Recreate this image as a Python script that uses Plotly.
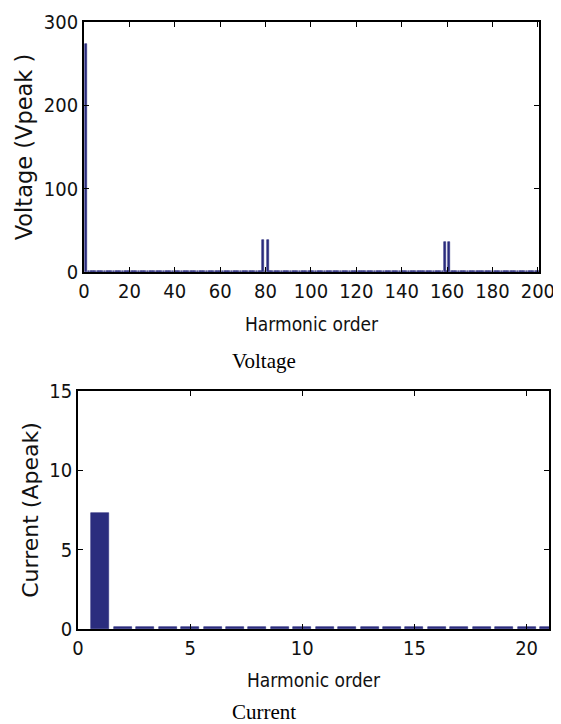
import plotly.graph_objects as go

# ---------------- data ----------------
# Voltage spectrum (harmonic order 1..200), peak volts
voltage_orders = list(range(1, 201))
voltage_main_orders = [1, 79, 81, 159, 161]
voltage_main_values = [274, 38, 38, 36, 36]
voltage_residual = 0.9  # small residual on every other harmonic

# Current spectrum (harmonic order 1..21), peak amps
current_orders = list(range(1, 22))
current_main_orders = [1]
current_main_values = [7.3]
current_residual = 0.12

x_ticks_top = [0, 20, 40, 60, 80, 100, 120, 140, 160, 180, 200]
y_ticks_top = [0, 100, 200, 300]
x_ticks_bot = [0, 5, 10, 15, 20]
y_ticks_bot = [0, 5, 10, 15]

voltage_values = [voltage_main_values[voltage_main_orders.index(h)] if h in voltage_main_orders else voltage_residual
                  for h in voltage_orders]
current_values = [current_main_values[current_main_orders.index(h)] if h in current_main_orders else current_residual
                  for h in current_orders]

BAR = "#2b2d7e"
COND = "DejaVu Sans Condensed, Liberation Sans, Arial, sans-serif"
SANS = "DejaVu Sans, Liberation Sans, Arial, sans-serif"
SERIF = "Liberation Serif, Times New Roman, serif"

fig = go.Figure()
fig.add_trace(go.Bar(x=voltage_orders, y=voltage_values, width=0.8,
                     marker=dict(color=BAR, line=dict(color=BAR, width=0.6)),
                     xaxis="x", yaxis="y", showlegend=False))
fig.add_trace(go.Bar(x=current_orders, y=current_values, width=0.8,
                     marker=dict(color=BAR, line=dict(color=BAR, width=0.6)),
                     xaxis="x2", yaxis="y2", showlegend=False))

# the page body adds an 8px offset, so the figure is 8px smaller than the window
OFF = 8
W, H = 561 - OFF, 724 - OFF

def px_x(p):
    return (p - OFF) / W

def px_y(p):
    return 1 - (p - OFF) / H

axis_common = dict(showline=True, linecolor="black", linewidth=1.6, mirror="ticks",
                   ticks="inside", ticklen=5, tickwidth=1, tickcolor="black",
                   showgrid=False, zeroline=False, automargin=False,
                   tickfont=dict(family=COND, size=20, color="#111"))

fig.update_layout(
    width=W, height=H,
    margin=dict(l=0, r=0, t=0, b=0),
    paper_bgcolor="white", plot_bgcolor="white",
    bargap=0,
    xaxis=dict(domain=[px_x(84), px_x(539)], range=[0, 200.5], tickvals=x_ticks_top,
               anchor="y",
               title=dict(text="Harmonic order", font=dict(family=COND, size=19, color="#111"), standoff=16),
               **axis_common),
    yaxis=dict(domain=[px_y(272), px_y(22)], range=[0, 300], tickvals=y_ticks_top,
               anchor="x",
               title=dict(text="Voltage (Vpeak )", font=dict(family=SANS, size=22.5, color="#111"), standoff=5),
               **axis_common),
    xaxis2=dict(domain=[px_x(78), px_x(549)], range=[0, 21], tickvals=x_ticks_bot,
                anchor="y2",
                title=dict(text="Harmonic order", font=dict(family=COND, size=19, color="#111"), standoff=15),
                **axis_common),
    yaxis2=dict(domain=[px_y(629), px_y(391)], range=[0, 15], tickvals=y_ticks_bot,
                anchor="x2",
                title=dict(text="Current (Apeak)", font=dict(family=SANS, size=22, color="#111"), standoff=5),
                **axis_common),
    annotations=[
        dict(text="Voltage", x=px_x(264), y=px_y(361), xref="paper", yref="paper",
             xanchor="center", yanchor="middle",
             showarrow=False, font=dict(family=SERIF, size=21, color="black")),
        dict(text="Current", x=px_x(264), y=px_y(712), xref="paper", yref="paper",
             xanchor="center", yanchor="middle",
             showarrow=False, font=dict(family=SERIF, size=21, color="black")),
    ],
)

fig.write_html("out.html")
